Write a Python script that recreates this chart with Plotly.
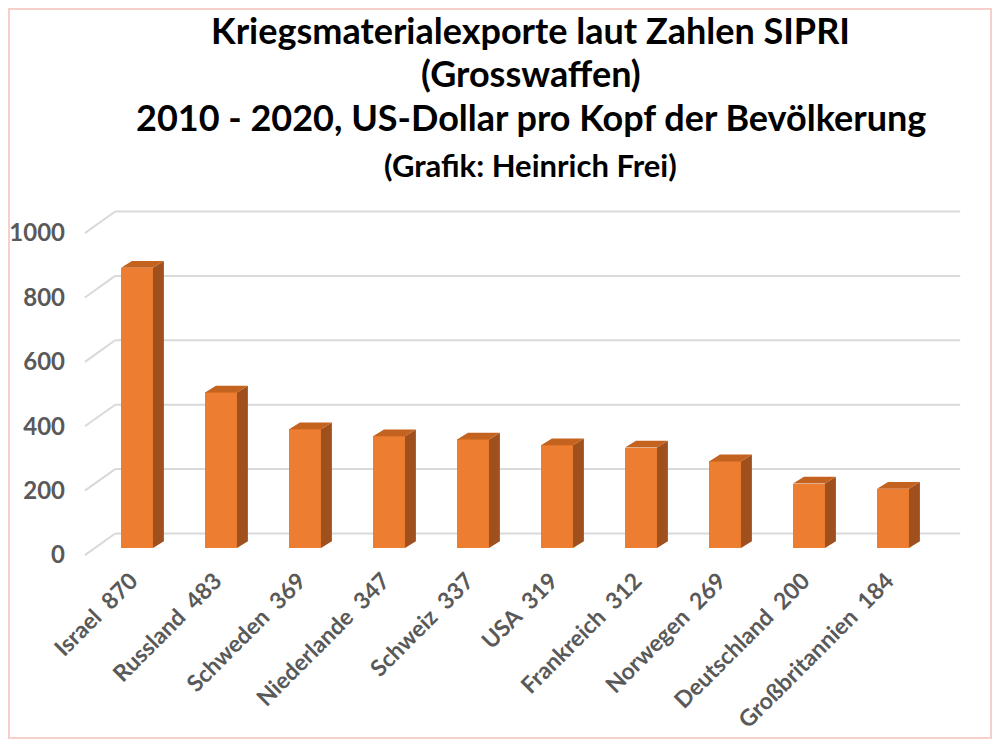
import plotly.graph_objects as go

# ---------------- data ----------------
countries = ["Israel", "Russland", "Schweden", "Niederlande", "Schweiz",
             "USA", "Frankreich", "Norwegen", "Deutschland", "Großbritannien"]
values = [870, 483, 369, 347, 337, 319, 312, 269, 200, 184]
label_values = ["870", "483", "369", "347", "337", "319", "312", "269", "200", "184"]
y_ticks = [0, 200, 400, 600, 800, 1000]
title_lines = [
    "Kriegsmaterialexporte laut Zahlen SIPRI",
    "(Grosswaffen)",
    "2010 - 2020, US-Dollar pro Kopf der Bevölkerung",
    "(Grafik: Heinrich Frei)",
]

# ---------------- style / geometry ----------------
FONT = "Lato"
GREY = "#595959"
GRID = "#D9D9D9"
FRONT = "#ED7D31"
TOP = "#C4621F"
SIDE = "#A0501C"
BAR_W = 0.38
DEPTH_X = 0.13      # bar depth in category units
DEPTH_Y = 21.0      # bar depth in value units
WALL_BACK = 45.0    # back wall offset in value units
WALL_FRONT = -22.0  # front plane offset in value units
X_FRONT = -0.62
X_BACK = -0.26
X_RIGHT = 9.80

xs = list(range(len(values)))
NB = "\u00a0"
cat_labels = [f"<b>{c}{NB}{NB}{v}</b>" for c, v in zip(countries, label_values)]

fig = go.Figure()

# front faces
fig.add_trace(go.Bar(x=xs, y=values, width=BAR_W, marker=dict(color=FRONT, line=dict(width=0)),
                     hoverinfo="skip", showlegend=False))

# side and top faces
side_x, side_y, top_x, top_y = [], [], [], []
for i, v in zip(xs, values):
    r = i + BAR_W / 2
    l = i - BAR_W / 2
    side_x += [r, r + DEPTH_X, r + DEPTH_X, r, r, None]
    side_y += [0, DEPTH_Y, v + DEPTH_Y, v, 0, None]
    top_x += [l, l + DEPTH_X, r + DEPTH_X, r, l, None]
    top_y += [v, v + DEPTH_Y, v + DEPTH_Y, v, v, None]
fig.add_trace(go.Scatter(x=side_x, y=side_y, fill="toself", fillcolor=SIDE, mode="lines",
                         line=dict(width=0, color=SIDE), hoverinfo="skip", showlegend=False))
fig.add_trace(go.Scatter(x=top_x, y=top_y, fill="toself", fillcolor=TOP, mode="lines",
                         line=dict(width=0, color=TOP), hoverinfo="skip", showlegend=False))

# back wall gridlines + floor diagonals
for t in y_ticks:
    fig.add_shape(type="line", xref="x", yref="y", layer="below",
                  x0=X_FRONT, y0=t + WALL_FRONT, x1=X_BACK, y1=t + WALL_BACK,
                  line=dict(color=GRID, width=2))
    fig.add_shape(type="line", xref="x", yref="y", layer="below",
                  x0=X_BACK, y0=t + WALL_BACK, x1=X_RIGHT, y1=t + WALL_BACK,
                  line=dict(color=GRID, width=2))

# title lines
title_y = [1.4707, 1.3508, 1.2293, 1.0967]
title_size = [36, 36, 36, 31]
for txt, yy, sz in zip(title_lines, title_y, title_size):
    fig.add_annotation(text=f"<b>{txt}</b>", xref="paper", yref="paper", x=0.5038, y=yy,
                       xanchor="center", yanchor="middle", showarrow=False,
                       font=dict(family=FONT, size=sz, color="#000000"))

# light border
fig.add_shape(type="rect", xref="paper", yref="paper", x0=-0.0667, x1=1.0066, y0=-0.4862, y1=1.5276,
              line=dict(color="#F6CFCB", width=2), layer="below")

fig.update_layout(
    width=984, height=731,
    margin=dict(l=62, r=7, t=192, b=177, autoexpand=False),
    paper_bgcolor="white", plot_bgcolor="white",
    bargap=0,
    xaxis=dict(range=[-0.7976, 10.095], tickvals=[x - 0.07 for x in xs], ticktext=cat_labels,
               tickangle=-45, showgrid=False, zeroline=False, showline=False, ticks="",
               automargin=False,
               tickfont=dict(family=FONT, size=23, color=GREY)),
    yaxis=dict(range=[-43.48, 1080.75], tickvals=[t + WALL_FRONT for t in y_ticks],
               ticktext=[f"<b>{t}</b>" for t in y_ticks], showgrid=False, zeroline=False,
               showline=False, ticks="", ticklabelstandoff=4, automargin=False,
               tickfont=dict(family=FONT, size=24, color=GREY)),
    showlegend=False,
)

fig.write_html("out.html")
